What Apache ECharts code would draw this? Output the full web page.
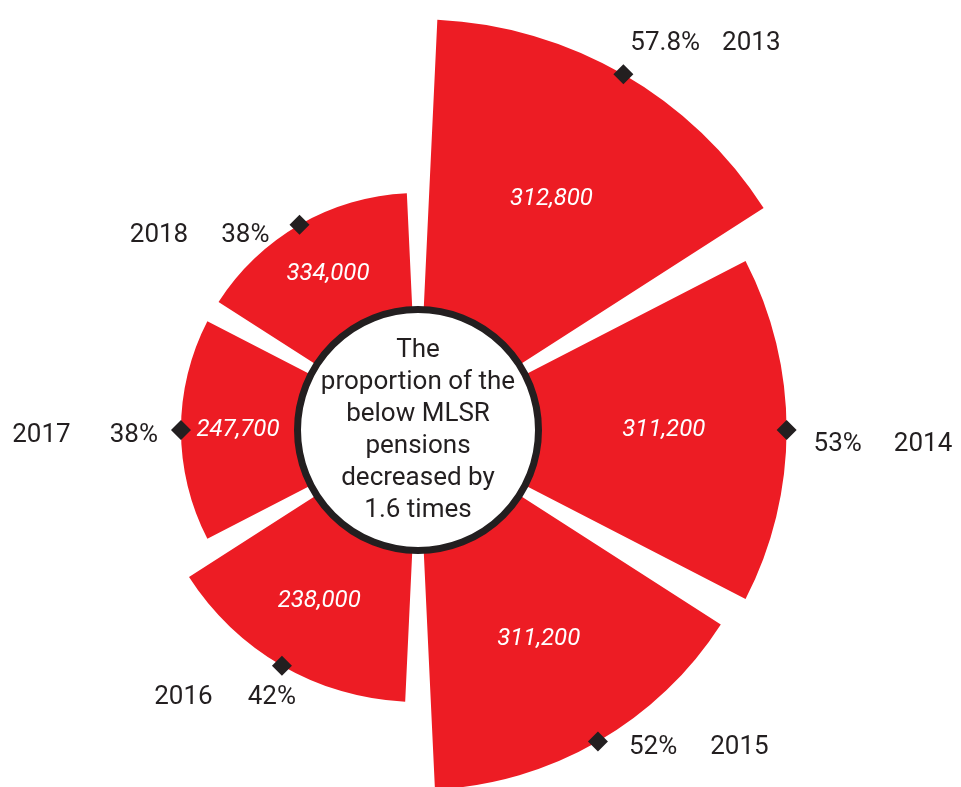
<!DOCTYPE html>
<html>
<head>
<meta charset="utf-8">
<script src="https://cdn.jsdelivr.net/npm/echarts@6/dist/echarts.min.js"></script>
<style>
  html, body { margin: 0; padding: 0; background: #ffffff; }
  #chart { width: 961px; height: 787px; }
</style>
</head>
<body>
<div id="chart"></div>
<script>
// Years shown around the rose, clockwise from the top
var years = ['2013', '2014', '2015', '2016', '2017', '2018'];
// Share of pensions below the MLSR, percent (sets each sector's length)
var shares = [57.8, 53, 52, 42, 38, 38];
// Number of such pensions, printed inside each sector
var counts = [312800, 311200, 311200, 238000, 247700, 334000];
// Caption in the middle disc
var centerLines = ['The', 'proportion of the', 'below MLSR', 'pensions', 'decreased by', '1.6 times'];

// Layout
var CX = 418, CY = 430;
var INNER = 123, OUTER = 430;
var RED = '#ed1c24';
var INK = '#231f20';
var FONT = 'Roboto, "Noto Sans", sans-serif';

// Where each year/percent tag sits relative to its marker
var tagLayout = [
  { side: 'right', offset: [-3, -31], gap: 22 },
  { side: 'right', offset: [17, 14], gap: 32 },
  { side: 'right', offset: [21, 6], gap: 33 },
  { side: 'left', offset: [24, 32], gap: 35 },
  { side: 'left', offset: [-13, 5], gap: 39 },
  { side: 'left', offset: [-20, 11], gap: 33 }
];

function fmtCount(v) {
  return String(v).replace(/\B(?=(\d{3})+(?!\d))/g, ',');
}

var markerData = shares.map(function (s, i) {
  var t = tagLayout[i];
  return {
    value: [s, years[i]],
    label: {
      position: t.side,
      offset: t.offset,
      formatter: t.side === 'right'
        ? '{p|' + s + '%}{y' + i + '|' + years[i] + '}'
        : '{y|' + years[i] + '}{q' + i + '|' + s + '%}'
    }
  };
});

var rich = {
  p: { fontSize: 26, fontFamily: FONT, color: INK },
  y: { fontSize: 26, fontFamily: FONT, color: INK }
};
tagLayout.forEach(function (t, i) {
  rich['y' + i] = { fontSize: 26, fontFamily: FONT, color: INK, padding: [0, 0, 0, t.gap] };
  rich['q' + i] = { fontSize: 26, fontFamily: FONT, color: INK, padding: [0, 0, 0, t.gap] };
});

var chart = echarts.init(document.getElementById('chart'), null, { renderer: 'canvas' });

chart.setOption({
  backgroundColor: '#ffffff',
  animation: false,
  polar: {
    center: [CX, CY],
    radius: [INNER, OUTER]
  },
  angleAxis: {
    type: 'category',
    data: years,
    startAngle: 90,
    clockwise: true,
    show: false
  },
  radiusAxis: {
    type: 'value',
    min: 25,
    max: 60,
    show: false,
    splitLine: { show: false }
  },
  series: [
    {
      type: 'bar',
      coordinateSystem: 'polar',
      data: shares,
      barCategoryGap: '9%',
      itemStyle: { color: RED },
      label: {
        show: true,
        position: 'middle',
        rotate: 0,
        color: '#ffffff',
        fontSize: 24,
        fontStyle: 'italic',
        fontFamily: FONT,
        textBorderWidth: 0,
        formatter: function (p) { return fmtCount(counts[p.dataIndex]); }
      }
    },
    {
      type: 'scatter',
      coordinateSystem: 'polar',
      symbol: 'diamond',
      symbolSize: 20,
      itemStyle: { color: INK, opacity: 1 },
      label: {
        show: true,
        distance: 0,
        rich: rich
      },
      data: markerData,
      z: 5
    }
  ],
  graphic: [
    {
      type: 'circle',
      shape: { cx: CX, cy: CY, r: INNER - 2.5 },
      style: { fill: '#ffffff', stroke: INK, lineWidth: 7 },
      z: 100
    },
    {
      type: 'text',
      x: CX,
      y: CY,
      z: 101,
      style: {
        text: centerLines.join('\n'),
        fill: INK,
        font: '26px ' + FONT,
        lineHeight: 32,
        align: 'center',
        verticalAlign: 'middle',
        textAlign: 'center',
        textVerticalAlign: 'middle'
      }
    }
  ]
});
</script>
</body>
</html>
